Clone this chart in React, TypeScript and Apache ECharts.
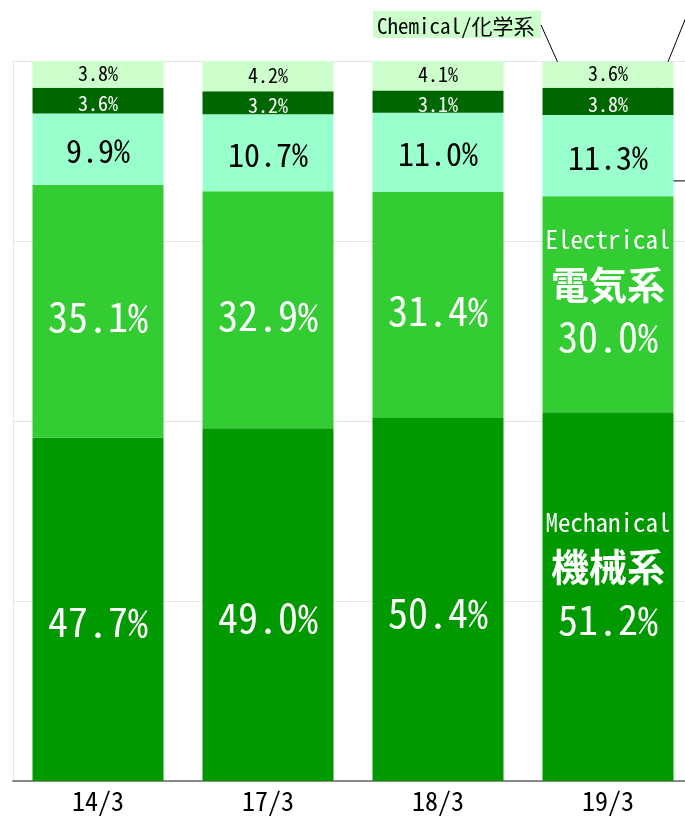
import React, { useEffect, useRef } from "react";
import * as echarts from "echarts";

const categories = ["14/3", "17/3", "18/3", "19/3"];
const mechanical = [47.7, 49.0, 50.4, 51.2];
const electrical = [35.1, 32.9, 31.4, 30.0];
const otherAqua = [9.9, 10.7, 11.0, 11.3];
const otherDark = [3.6, 3.2, 3.1, 3.8];
const chemical = [3.8, 4.2, 4.1, 3.6];
const chemicalTitle = "Chemical/化学系";

const FONT = "'Noto Sans Mono CJK JP', 'DejaVu Sans Condensed', 'Noto Sans CJK JP', sans-serif";
const CJK = "'Noto Sans CJK JP', sans-serif";
const BAR_W = 131;

function pct(v: number) {
  return v.toFixed(1) + "%";
}

function bigSeries(name: string, values: number[], color: string, offY: number, lastOffY: number, en: string, jp: string) {
  return {
    name,
    type: "bar",
    stack: "total",
    barWidth: BAR_W,
    itemStyle: { color },
    label: {
      show: true,
      position: "inside",
      color: "#fff",
      fontSize: 40,
      fontFamily: FONT,
      offset: [0, offY],
      formatter: (p: any) => pct(p.value),
    },
    data: values.map((v, i) =>
      i === values.length - 1
        ? {
            value: v,
            label: {
              show: true,
              position: "inside",
              offset: [0, lastOffY],
              formatter: `{en|${en}}\n{jp|${jp}}\n{num|${pct(v)}}`,
              rich: {
                en: { fontSize: 25, fontFamily: FONT, color: "#fff", lineHeight: 40 },
                jp: { fontSize: 38, fontWeight: "bold", fontFamily: CJK, color: "#fff", lineHeight: 48 },
                num: { fontSize: 40, fontFamily: FONT, color: "#fff", lineHeight: 58 },
              },
            },
          }
        : { value: v }
    ),
  };
}

function smallSeries(name: string, values: number[], color: string, textColor: string, fontSize: number, offY: number) {
  return {
    name,
    type: "bar",
    stack: "total",
    barWidth: BAR_W,
    itemStyle: { color },
    label: {
      show: true,
      position: "inside",
      color: textColor,
      fontSize,
      lineHeight: fontSize,
      fontFamily: FONT,
      offset: [0, offY],
      formatter: (p: any) => pct(p.value),
    },
    data: values,
  };
}

export default function App() {
  const ref = useRef<HTMLDivElement>(null);
  useEffect(() => {
    if (!ref.current) return;
    const chart = echarts.init(ref.current, undefined, { renderer: "svg" });
    chart.setOption({
      animation: false,
      grid: { left: 13, right: 0, top: 61, bottom: 37 },
      xAxis: {
        type: "category",
        data: categories,
        axisLine: { show: true, lineStyle: { color: "#888", width: 2 } },
        axisTick: { show: false },
        axisLabel: { fontSize: 26, lineHeight: 26, color: "#000", fontFamily: FONT, margin: 5 },
      },
      yAxis: {
        type: "value",
        min: 0,
        max: 100,
        interval: 25,
        axisLabel: { show: false },
        axisTick: { show: false },
        axisLine: { show: true, lineStyle: { color: "#e8e8e8", width: 1 } },
        splitLine: { show: true, lineStyle: { color: "#e4e4e4", width: 1 } },
      },
      series: [
        bigSeries("Mechanical/機械系", mechanical, "#009900", 11, -23, "Mechanical", "機械系"),
        bigSeries("Electrical/電気系", electrical, "#33CC33", 4, -13, "Electrical", "電気系"),
        smallSeries("Other A", otherAqua, "#99FFCC", "#000", 32, 0),
        smallSeries("Other B", otherDark, "#006600", "#fff", 20, 2),
        smallSeries("Chemical/化学系", chemical, "#CCFFCC", "#000", 20, -2),
      ],
    });

    const last = categories.length - 1;
    const px = (v: number) => chart.convertToPixel({ gridIndex: 0 }, [categories[last], v]) as number[];
    const s1 = mechanical[last] + electrical[last];
    const s2 = s1 + otherAqua[last];
    const s3 = s2 + otherDark[last];
    const chemPt = px(s3 + chemical[last] * 0.35);
    const darkPt = px(s2 + otherDark[last] * 0.5);
    const aquaPt = px(s1 + otherAqua[last] * 0.19);
    const cx = chemPt[0];

    chart.setOption({
      graphic: [
        { type: "rect", shape: { x: 373, y: 11, width: 168, height: 27 }, style: { fill: "#CCFFCC" } },
        {
          type: "text",
          x: 377,
          y: 25,
          style: { text: chemicalTitle, fontSize: 21, fontFamily: FONT, fill: "#000", verticalAlign: "middle" },
        },
        { type: "line", shape: { x1: 541, y1: 25, x2: cx - 43, y2: chemPt[1] }, style: { stroke: "#000", lineWidth: 1 } },
        { type: "line", shape: { x1: 693, y1: 0, x2: cx + 44, y2: darkPt[1] }, style: { stroke: "#000", lineWidth: 1 } },
        { type: "line", shape: { x1: cx + 44, y1: aquaPt[1], x2: 693, y2: aquaPt[1] }, style: { stroke: "#000", lineWidth: 1 } },
      ],
    });
    return () => chart.dispose();
  }, []);
  return <div ref={ref} style={{ position: "fixed", left: 0, top: 0, width: 693, height: 818 }} />;
}
